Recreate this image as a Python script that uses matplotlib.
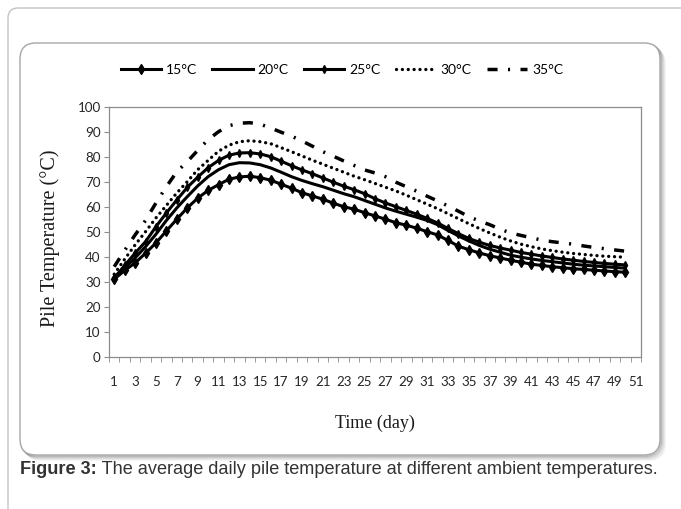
import numpy as np
import matplotlib
matplotlib.use("Agg")
import matplotlib.pyplot as plt
from matplotlib.patches import FancyBboxPatch

# ---- data -------------------------------------------------------------------
days = list(range(1, 51))
t15 = [31.0, 34.5, 37.5, 41.4, 45.5, 50.3, 55.0, 59.5, 63.4, 66.5,
       68.8, 71.0, 71.9, 72.2, 71.6, 70.6, 69.0, 67.4, 65.6, 64.3,
       63.0, 61.4, 60.0, 59.0, 57.6, 56.3, 55.0, 53.6, 52.6, 51.4,
       50.0, 48.7, 46.5, 44.2, 42.8, 41.5, 40.4, 39.5, 38.6, 37.8,
       37.0, 36.5, 36.0, 35.6, 35.2, 34.9, 34.6, 34.3, 34.0, 33.8]
t20 = [31.5, 35.5, 39.5, 44.0, 49.0, 54.5, 59.5, 64.0, 68.3, 72.0,
       74.8, 76.8, 77.6, 77.5, 76.8, 75.5, 73.8, 72.0, 70.5, 69.2,
       68.0, 66.6, 65.2, 64.0, 62.5, 61.0, 59.5, 58.2, 57.0, 55.8,
       54.5, 52.8, 50.5, 48.3, 46.3, 44.5, 43.0, 41.8, 40.6, 39.8,
       39.1, 38.5, 38.0, 37.5, 37.0, 36.6, 36.3, 36.0, 35.7, 35.4]
t25 = [31.5, 36.5, 41.4, 46.0, 52.0, 57.5, 62.7, 67.7, 71.8, 75.6,
       78.5, 80.6, 81.5, 81.6, 81.1, 80.0, 78.2, 76.4, 74.7, 73.2,
       71.5, 69.8, 68.2, 66.8, 65.2, 63.2, 61.5, 60.0, 58.5, 57.0,
       55.3, 53.5, 51.3, 49.2, 47.3, 45.8, 44.5, 43.5, 42.6, 41.7,
       41.0, 40.3, 39.7, 39.1, 38.6, 38.1, 37.7, 37.3, 37.0, 36.7]
t30 = [33.0, 39.0, 44.7, 50.0, 55.5, 60.5, 65.5, 70.0, 74.8, 78.5,
       82.2, 84.6, 86.0, 86.4, 86.0, 85.2, 83.6, 82.0, 80.3, 78.6,
       77.0, 75.4, 73.8, 72.2, 70.8, 69.3, 67.8, 66.3, 64.6, 62.8,
       61.0, 59.2, 57.2, 55.2, 53.2, 51.3, 49.5, 47.8, 46.3, 45.0,
       44.0, 43.1, 42.4, 41.8, 41.3, 40.9, 40.5, 40.2, 40.0, 39.8]
t35 = [36.0, 42.5, 48.7, 54.5, 61.5, 68.0, 74.0, 78.0, 82.5, 86.8,
       90.0, 92.4, 93.4, 93.6, 93.0, 91.5, 89.8, 88.2, 86.3, 84.2,
       82.0, 80.2, 78.3, 76.5, 74.7, 73.5, 72.0, 69.8, 68.0, 66.2,
       64.2, 62.3, 60.3, 58.2, 56.0, 54.3, 52.8, 51.0, 49.5, 48.5,
       47.6, 46.6, 46.0, 45.5, 45.0, 44.3, 43.7, 43.2, 42.7, 42.2]
series_labels = ["15°C", "20°C", "25°C", "30°C", "35°C"]
x_tick_labels = [str(d) for d in range(1, 52, 2)]

W, H = 681, 509
fig = plt.figure(figsize=(W / 100, H / 100), dpi=100)

# ---- page frame and rounded chart box (pixel coordinates) -------------------
bg = fig.add_axes([0, 0, 1, 1], zorder=0)
bg.set_xlim(0, W)
bg.set_ylim(H, 0)
bg.axis("off")

bg.add_patch(FancyBboxPatch((8, 8), 760, 600, boxstyle="round,pad=0,rounding_size=10",
                            fc="white", ec="#c4c4c4", lw=1.0))
for off, a in [(5, 0.08), (4, 0.14), (3, 0.22), (2, 0.32), (1, 0.45)]:
    bg.add_patch(FancyBboxPatch((20 + off, 43 + off), 640, 412,
                                boxstyle="round,pad=0,rounding_size=16",
                                fc="none", ec="#808080", lw=1.2, alpha=a))
bg.add_patch(FancyBboxPatch((20, 43), 640, 412, boxstyle="round,pad=0,rounding_size=16",
                            fc="white", ec="#a6a6a6", lw=1.0))

# ---- the chart ---------------------------------------------------------------
left, right, top, bottom = 109, 641, 106.7, 356.7
ax = fig.add_axes([left / W, 1 - bottom / H, (right - left) / W, (bottom - top) / H], zorder=2)
ax.set_facecolor("none")

ax.plot(days, t15, color="black", lw=2.2, marker="d", ms=5.0, label=series_labels[0])
ax.plot(days, t20, color="black", lw=2.2, label=series_labels[1])
ax.plot(days, t25, color="black", lw=2.2, marker="d", ms=4.2, label=series_labels[2])
ax.plot(days, t30, color="black", lw=2.4, ls=(0, (0.01, 1.75)),
        dash_capstyle="round", label=series_labels[3])
ax.plot(days, t35, color="black", lw=2.5, ls=(0, (2.9, 3.0, 0.6, 3.0)), label=series_labels[4])

ax.set_xlim(0.5, 51.5)
ax.set_ylim(0, 100)
ax.set_yticks(range(0, 101, 10))
ax.set_xticks(range(1, 52, 2))
ax.set_xticklabels(x_tick_labels)
ax.set_xticks(np.arange(0.5, 52, 1), minor=True)

spine_col = "#8c8c8c"
for s in ax.spines.values():
    s.set_color(spine_col)
    s.set_linewidth(0.9)

ax.tick_params(axis="x", which="major", length=0, pad=14, labelcolor="#262626")
ax.tick_params(axis="x", which="minor", length=3.5, direction="out", color=spine_col)
ax.tick_params(axis="y", length=3.5, direction="out", color=spine_col, pad=2.5,
               labelcolor="#262626")
for lab in ax.get_xticklabels() + ax.get_yticklabels():
    lab.set_fontfamily("Lato")
    lab.set_fontsize(9.6)

fig.text(50 / W, 1 - 238 / H, "Pile Temperature (°C)", rotation=90, ha="center", va="center",
         family="Liberation Serif", size=14.5, color="#1a1a1a")
fig.text(375 / W, 1 - 423 / H, "Time (day)", ha="center", va="center",
         family="Liberation Serif", size=13, color="#1a1a1a")

handles, labels = ax.get_legend_handles_labels()
fig.legend(handles, labels, loc="center", bbox_to_anchor=(342 / W, 1 - 70 / H), ncol=5,
           frameon=False, handlelength=2.9, handletextpad=0.35, columnspacing=1.1,
           prop={"family": "Lato", "size": 10})

# ---- caption -------------------------------------------------------------------
cap = fig.text(20 / W, 1 - 470 / H, "Figure 3:", ha="left", va="center",
               family="Liberation Sans", weight="bold", size=13.1, color="#333333")
bg.annotate(" The average daily pile temperature at different ambient temperatures.",
            xy=(1, 0.5), xycoords=cap, ha="left", va="center",
            family="Liberation Sans", size=13.1, color="#333333")

fig.savefig("out.png", dpi=100)
